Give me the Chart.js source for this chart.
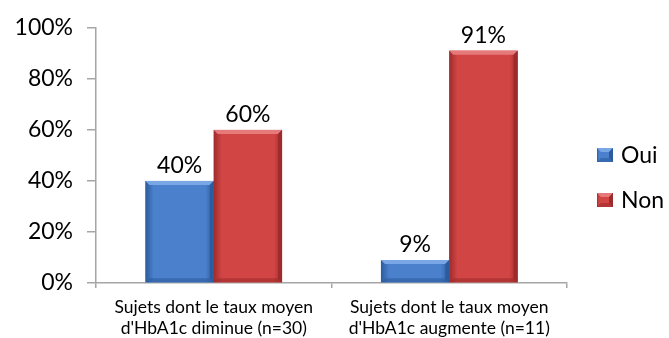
<!DOCTYPE html>
<html>
<head>
<meta charset="utf-8">
<script src="https://cdn.jsdelivr.net/npm/chart.js@4"></script>
<style>
  html, body { margin: 0; padding: 0; background: #fff; }
  #wrap { width: 669px; height: 338px; }
</style>
</head>
<body>
<div id="wrap"><canvas id="graph"></canvas></div>
<script>
const categories = [
  ['Sujets dont le taux moyen', "d'HbA1c diminue (n=30)"],
  ['Sujets dont le taux moyen', "d'HbA1c augmente (n=11)"]
];
const seriesNames = ['Oui', 'Non'];
const oui = [40, 9];
const non = [60, 91];
const yTicks = [0, 20, 40, 60, 80, 100];

const FONT = 'Lato, "Open Sans", sans-serif';
const BIG = 23;
const palette = {
  Oui: { base: '#4a80cc', light: '#79a6e4', dark: '#2c5c9e' },
  Non: { base: '#d24545', light: '#e67a7a', dark: '#9e2b2b' }
};

// bevelled look of the bars, drawn over each bar the library placed
function bevel(ctx, left, top, right, bottom, col) {
  const b = Math.min(4, (bottom - top) / 2);
  ctx.save();
  const g = ctx.createLinearGradient(left, 0, right, 0);
  g.addColorStop(0, col.dark);
  g.addColorStop(0.12, col.base);
  g.addColorStop(0.88, col.base);
  g.addColorStop(1, col.dark);
  ctx.fillStyle = g;
  ctx.fillRect(left, top, right - left, bottom - top);
  // top face
  ctx.fillStyle = col.light;
  ctx.beginPath();
  ctx.moveTo(left, top); ctx.lineTo(right, top);
  ctx.lineTo(right - b, top + b); ctx.lineTo(left + b, top + b);
  ctx.closePath(); ctx.fill();
  // right and bottom faces
  ctx.fillStyle = col.dark;
  ctx.beginPath();
  ctx.moveTo(right, top); ctx.lineTo(right, bottom);
  ctx.lineTo(right - b, bottom - b); ctx.lineTo(right - b, top + b);
  ctx.closePath(); ctx.fill();
  ctx.globalAlpha = 0.6;
  ctx.beginPath();
  ctx.moveTo(left, bottom); ctx.lineTo(right, bottom);
  ctx.lineTo(right - b, bottom - b); ctx.lineTo(left + b, bottom - b);
  ctx.closePath(); ctx.fill();
  ctx.restore();
}

const barStyle = {
  id: 'barStyle',
  afterDatasetsDraw(chart) {
    const ctx = chart.ctx;
    chart.data.datasets.forEach((ds, i) => {
      const meta = chart.getDatasetMeta(i);
      meta.data.forEach((bar, j) => {
        const p = bar.getProps(['x', 'y', 'base', 'width'], true);
        bevel(ctx, p.x - p.width / 2, p.y, p.x + p.width / 2, p.base, palette[ds.label]);
        // value above the bar
        ctx.save();
        ctx.font = BIG + 'px ' + FONT;
        ctx.fillStyle = '#000';
        ctx.textAlign = 'center';
        ctx.textBaseline = 'alphabetic';
        ctx.fillText(ds.data[j] + '%', p.x, p.y - 8);
        ctx.restore();
      });
    });
  },
  afterDraw(chart) {
    const ctx = chart.ctx;
    chart.data.datasets.forEach((ds, i) => {
      const cy = 155 + i * 45;
      bevel(ctx, 597, cy - 7, 613, cy + 7, palette[ds.label]);
      ctx.save();
      ctx.font = BIG + 'px ' + FONT;
      ctx.fillStyle = '#000';
      ctx.textBaseline = 'middle';
      ctx.fillText(ds.label, 621, cy + 1);
      ctx.restore();
    });
  }
};

new Chart(document.getElementById('graph'), {
  type: 'bar',
  data: {
    labels: categories,
    datasets: [
      { label: seriesNames[0], data: oui, backgroundColor: palette.Oui.base },
      { label: seriesNames[1], data: non, backgroundColor: palette.Non.base }
    ]
  },
  options: {
    responsive: true,
    maintainAspectRatio: false,
    animation: false,
    layout: { padding: { top: 27, right: 102, left: 0, bottom: 0 } },
    datasets: { bar: { categoryPercentage: 0.58, barPercentage: 1 } },
    plugins: { legend: { display: false }, tooltip: { enabled: false } },
    scales: {
      x: {
        afterFit: s => { s.height = 55; },
        border: { color: '#a6a6a6', width: 1.5 },
        grid: { offset: true, drawOnChartArea: false, tickLength: 5, color: '#a6a6a6', lineWidth: 1.5 },
        ticks: { color: '#000', font: { family: FONT, size: 17.5, lineHeight: 1.25 }, padding: 8, maxRotation: 0 }
      },
      y: {
        min: 0,
        max: 100,
        afterFit: s => { s.width = 96; },
        afterBuildTicks: s => { s.ticks = yTicks.map(v => ({ value: v })); },
        border: { color: '#a6a6a6', width: 1.5 },
        grid: { drawOnChartArea: false, tickLength: 9, color: '#a6a6a6', lineWidth: 1.5 },
        ticks: { color: '#000', font: { family: FONT, size: BIG }, padding: 14, callback: v => v + '%' }
      }
    }
  },
  plugins: [barStyle]
});
</script>
</body>
</html>
